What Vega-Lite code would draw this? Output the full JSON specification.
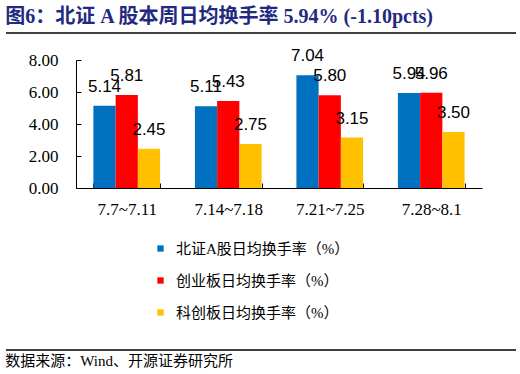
{
  "$schema": "https://vega.github.io/schema/vega-lite/v6.json",
  "padding": {"left": 5, "top": 7, "right": 5, "bottom": 0},
  "spacing": 13,
  "config": {"view": {"stroke": null}},
  "title": {
    "text": "图6：北证 A 股本周日均换手率 5.94% (-1.10pcts)",
    "anchor": "start",
    "frame": "bounds",
    "font": "'Liberation Serif','Noto Sans CJK SC'",
    "fontSize": 20,
    "fontWeight": "bold",
    "color": "#1F2A80",
    "offset": 5
  },
  "datasets": {
    "line": [{"a": 0, "b": 1}],
    "bars": [
      {"week": "7.7~7.11", "series": "北证A股日均换手率（%）", "value": 5.14},
      {"week": "7.14~7.18", "series": "北证A股日均换手率（%）", "value": 5.11},
      {"week": "7.21~7.25", "series": "北证A股日均换手率（%）", "value": 7.04},
      {"week": "7.28~8.1", "series": "北证A股日均换手率（%）", "value": 5.94},
      {"week": "7.7~7.11", "series": "创业板日均换手率（%）", "value": 5.81},
      {"week": "7.14~7.18", "series": "创业板日均换手率（%）", "value": 5.43},
      {"week": "7.21~7.25", "series": "创业板日均换手率（%）", "value": 5.80},
      {"week": "7.28~8.1", "series": "创业板日均换手率（%）", "value": 5.96},
      {"week": "7.7~7.11", "series": "科创板日均换手率（%）", "value": 2.45},
      {"week": "7.14~7.18", "series": "科创板日均换手率（%）", "value": 2.75},
      {"week": "7.21~7.25", "series": "科创板日均换手率（%）", "value": 3.15},
      {"week": "7.28~8.1", "series": "科创板日均换手率（%）", "value": 3.50}
    ]
  },
  "resolve": {"scale": {"x": "independent", "y": "independent", "color": "independent"}},
  "vconcat": [
    {
      "width": 406,
      "height": 1,
      "data": {"name": "line"},
      "mark": {"type": "rule", "color": "black", "strokeWidth": 1.5},
      "encoding": {
        "x": {"field": "a", "type": "quantitative", "scale": {"domain": [0, 1], "nice": false, "range": [-70, 440]}, "axis": null},
        "x2": {"field": "b"},
        "y": {"value": 0}
      }
    },
    {
      "width": 406,
      "height": 128,
      "data": {"name": "bars"},
      "encoding": {
        "x": {
          "field": "week",
          "type": "nominal",
          "sort": ["7.7~7.11", "7.14~7.18", "7.21~7.25", "7.28~8.1"],
          "scale": {"paddingInner": 0.343, "paddingOuter": 0.1715},
          "axis": {
            "title": null,
            "labelAngle": 0,
            "labelFont": "Liberation Serif",
            "labelFontSize": 17,
            "labelColor": "black",
            "domainColor": "black",
            "tickColor": "black",
            "tickBand": "extent",
            "tickSize": -5,
            "labelPadding": 18,
            "grid": false
          }
        },
        "xOffset": {
          "field": "series",
          "sort": ["北证A股日均换手率（%）", "创业板日均换手率（%）", "科创板日均换手率（%）"],
          "scale": {"paddingInner": 0, "paddingOuter": 0}
        },
        "y": {
          "field": "value",
          "type": "quantitative",
          "scale": {"domain": [0, 8], "nice": false},
          "axis": {
            "title": null,
            "values": [0, 2, 4, 6, 8],
            "format": ".2f",
            "labelFont": "Liberation Serif",
            "labelFontSize": 17,
            "labelColor": "black",
            "domainColor": "black",
            "tickColor": "black",
            "tickSize": -5,
            "labelPadding": 23,
            "grid": false,
            "minExtent": 70
          }
        }
      },
      "layer": [
        {
          "mark": {"type": "bar"},
          "encoding": {
            "color": {
              "field": "series",
              "type": "nominal",
              "sort": ["北证A股日均换手率（%）", "创业板日均换手率（%）", "科创板日均换手率（%）"],
              "scale": {"range": ["#0070C0", "#FF0000", "#FFC000"]},
              "legend": {
                "title": null,
                "orient": "none",
                "legendX": 62,
                "legendY": 166,
                "direction": "vertical",
                "symbolType": "square",
                "symbolSize": 40,
                "labelFont": "'Liberation Serif','Noto Sans CJK SC'",
                "labelFontSize": 15,
                "labelColor": "black",
                "labelLimit": 0,
                "labelOffset": 8,
                "rowPadding": 16,
                "padding": 15
              }
            }
          }
        },
        {
          "mark": {"type": "text", "baseline": "alphabetic", "dy": -14, "font": "Liberation Sans", "fontSize": 17, "color": "black"},
          "encoding": {
            "text": {"field": "value", "type": "quantitative", "format": ".2f"}
          }
        }
      ]
    },
    {
      "width": 406,
      "height": 1,
      "title": {
        "text": "数据来源：Wind、开源证券研究所",
        "orient": "bottom",
        "anchor": "start",
        "frame": "bounds",
        "font": "'Liberation Serif','Noto Sans CJK SC'",
        "fontSize": 15,
        "fontWeight": "normal",
        "color": "black",
        "offset": 3
      },
      "data": {"name": "line"},
      "mark": {"type": "rule", "color": "black", "strokeWidth": 1.5},
      "encoding": {
        "x": {"field": "a", "type": "quantitative", "scale": {"domain": [0, 1], "nice": false, "range": [-70, 440]}, "axis": null},
        "x2": {"field": "b"},
        "y": {"value": 0}
      }
    }
  ]
}
